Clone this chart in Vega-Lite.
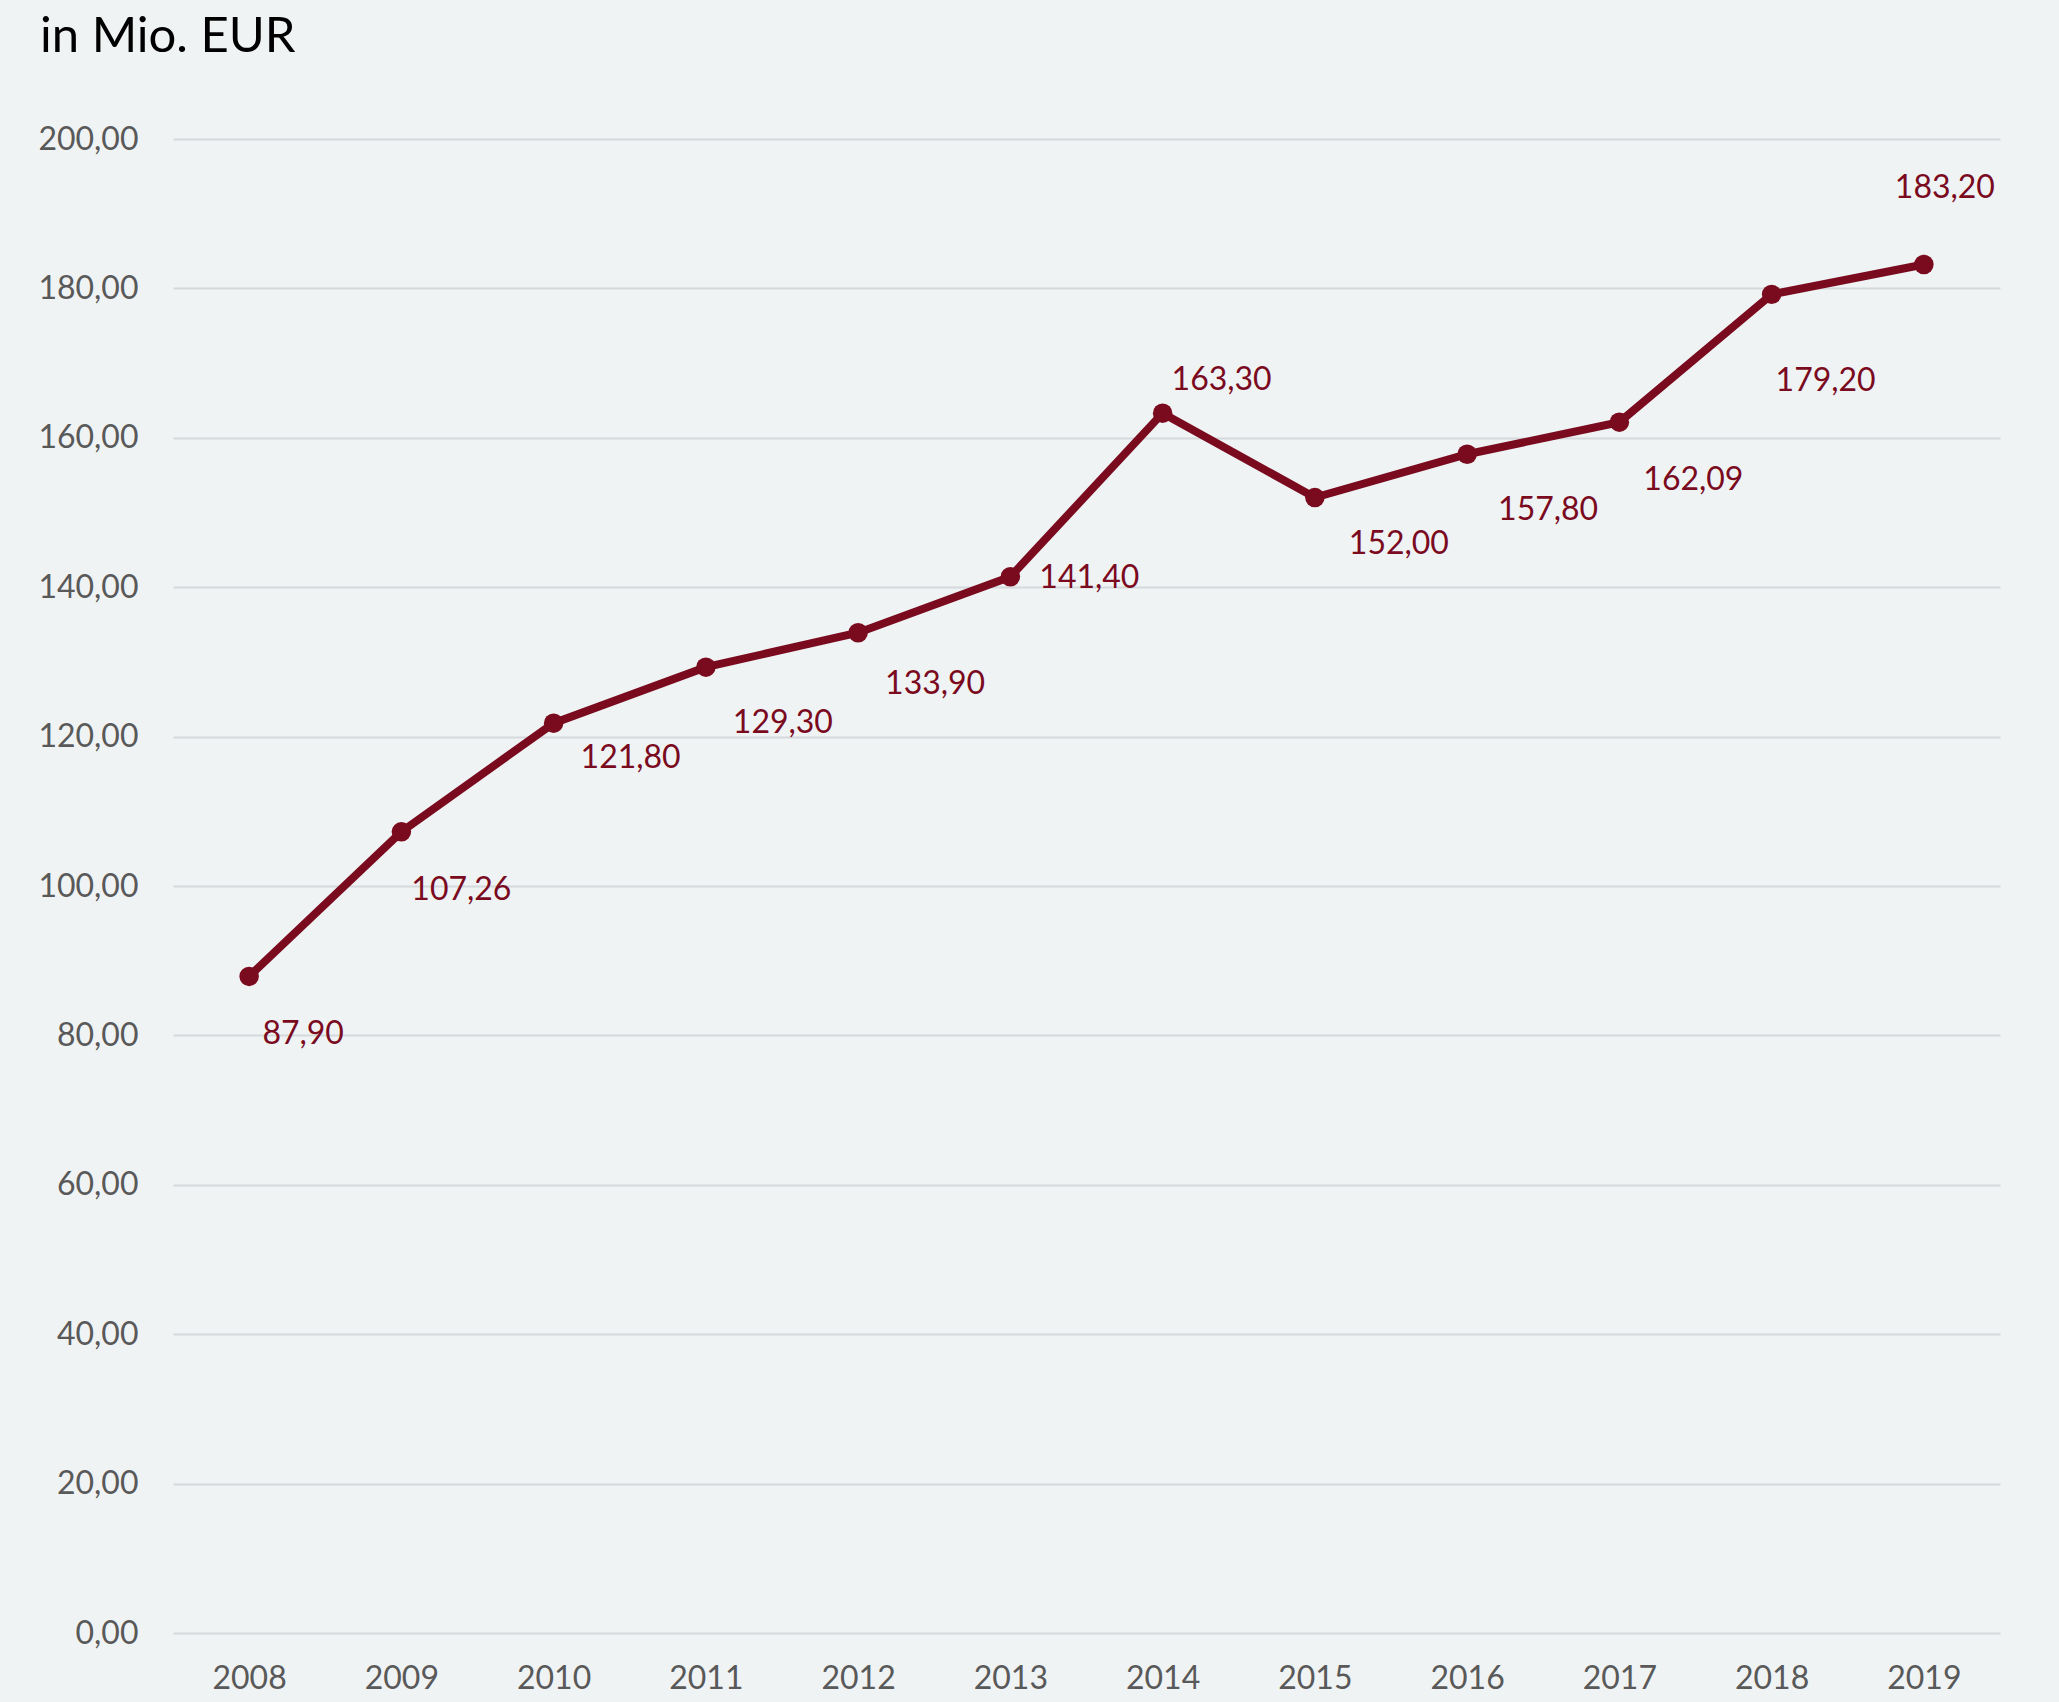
{
  "$schema": "https://vega.github.io/schema/vega-lite/v6.json",
  "width": 1827,
  "height": 1494,
  "autosize": {"type": "none"},
  "padding": {"left": 173, "top": 139, "right": 59, "bottom": 69},
  "background": "#f0f3f4",
  "config": {
    "view": {"stroke": null},
    "font": "Lato",
    "locale": {"number": {"decimal": ",", "thousands": ".", "grouping": [3], "currency": ["", " €"]}}
  },
  "title": {
    "text": "in Mio. EUR",
    "anchor": "start",
    "frame": "group",
    "dx": -133,
    "offset": 22,
    "baseline": "alphabetic",
    "fontSize": 49,
    "font": "Lato",
    "fontWeight": "normal",
    "color": "#000000"
  },
  "data": {
    "values": [
      {"year": "2008", "value": 87.90},
      {"year": "2009", "value": 107.26},
      {"year": "2010", "value": 121.80},
      {"year": "2011", "value": 129.30},
      {"year": "2012", "value": 133.90},
      {"year": "2013", "value": 141.40},
      {"year": "2014", "value": 163.30},
      {"year": "2015", "value": 152.00},
      {"year": "2016", "value": 157.80},
      {"year": "2017", "value": 162.09},
      {"year": "2018", "value": 179.20},
      {"year": "2019", "value": 183.20}
    ]
  },
  "encoding": {
    "x": {
      "field": "year",
      "type": "ordinal",
      "scale": {"type": "point", "padding": 0.5},
      "axis": {
        "title": null,
        "labelAngle": 0,
        "ticks": false,
        "domain": false,
        "grid": false,
        "labelFontSize": 32,
        "labelColor": "#595959",
        "labelPadding": 30,
        "labelFont": "Lato"
      }
    },
    "y": {
      "field": "value",
      "type": "quantitative",
      "scale": {"domain": [0, 200], "nice": false},
      "axis": {
        "title": null,
        "values": [0, 20, 40, 60, 80, 100, 120, 140, 160, 180, 200],
        "format": ".2f",
        "ticks": false,
        "domain": false,
        "grid": true,
        "gridColor": "#d6d9db",
        "gridWidth": 2,
        "labelFontSize": 32,
        "labelColor": "#595959",
        "labelPadding": 35,
        "labelFont": "Lato"
      }
    }
  },
  "layer": [
    {"mark": {"type": "line", "color": "#7a0a1e", "strokeWidth": 8}},
    {"mark": {"type": "point", "filled": true, "color": "#7a0a1e", "size": 380, "opacity": 1}},
    {"transform": [{"filter": "datum.year == '2008'"}], "mark": {"type": "text", "color": "#7a0a1e", "fontSize": 32, "dx": 54, "dy": 58}, "encoding": {"text": {"field": "value", "type": "quantitative", "format": ".2f"}}},
    {"transform": [{"filter": "datum.year == '2009'"}], "mark": {"type": "text", "color": "#7a0a1e", "fontSize": 32, "dx": 60, "dy": 58}, "encoding": {"text": {"field": "value", "type": "quantitative", "format": ".2f"}}},
    {"transform": [{"filter": "datum.year == '2010'"}], "mark": {"type": "text", "color": "#7a0a1e", "fontSize": 32, "dx": 77, "dy": 35}, "encoding": {"text": {"field": "value", "type": "quantitative", "format": ".2f"}}},
    {"transform": [{"filter": "datum.year == '2011'"}], "mark": {"type": "text", "color": "#7a0a1e", "fontSize": 32, "dx": 77, "dy": 56}, "encoding": {"text": {"field": "value", "type": "quantitative", "format": ".2f"}}},
    {"transform": [{"filter": "datum.year == '2012'"}], "mark": {"type": "text", "color": "#7a0a1e", "fontSize": 32, "dx": 77, "dy": 51}, "encoding": {"text": {"field": "value", "type": "quantitative", "format": ".2f"}}},
    {"transform": [{"filter": "datum.year == '2013'"}], "mark": {"type": "text", "color": "#7a0a1e", "fontSize": 32, "dx": 79, "dy": 1}, "encoding": {"text": {"field": "value", "type": "quantitative", "format": ".2f"}}},
    {"transform": [{"filter": "datum.year == '2014'"}], "mark": {"type": "text", "color": "#7a0a1e", "fontSize": 32, "dx": 59, "dy": -33}, "encoding": {"text": {"field": "value", "type": "quantitative", "format": ".2f"}}},
    {"transform": [{"filter": "datum.year == '2015'"}], "mark": {"type": "text", "color": "#7a0a1e", "fontSize": 32, "dx": 84, "dy": 46}, "encoding": {"text": {"field": "value", "type": "quantitative", "format": ".2f"}}},
    {"transform": [{"filter": "datum.year == '2016'"}], "mark": {"type": "text", "color": "#7a0a1e", "fontSize": 32, "dx": 81, "dy": 56}, "encoding": {"text": {"field": "value", "type": "quantitative", "format": ".2f"}}},
    {"transform": [{"filter": "datum.year == '2017'"}], "mark": {"type": "text", "color": "#7a0a1e", "fontSize": 32, "dx": 74, "dy": 58}, "encoding": {"text": {"field": "value", "type": "quantitative", "format": ".2f"}}},
    {"transform": [{"filter": "datum.year == '2018'"}], "mark": {"type": "text", "color": "#7a0a1e", "fontSize": 32, "dx": 54, "dy": 87}, "encoding": {"text": {"field": "value", "type": "quantitative", "format": ".2f"}}},
    {"transform": [{"filter": "datum.year == '2019'"}], "mark": {"type": "text", "color": "#7a0a1e", "fontSize": 32, "dx": 21, "dy": -76}, "encoding": {"text": {"field": "value", "type": "quantitative", "format": ".2f"}}}
  ]
}
